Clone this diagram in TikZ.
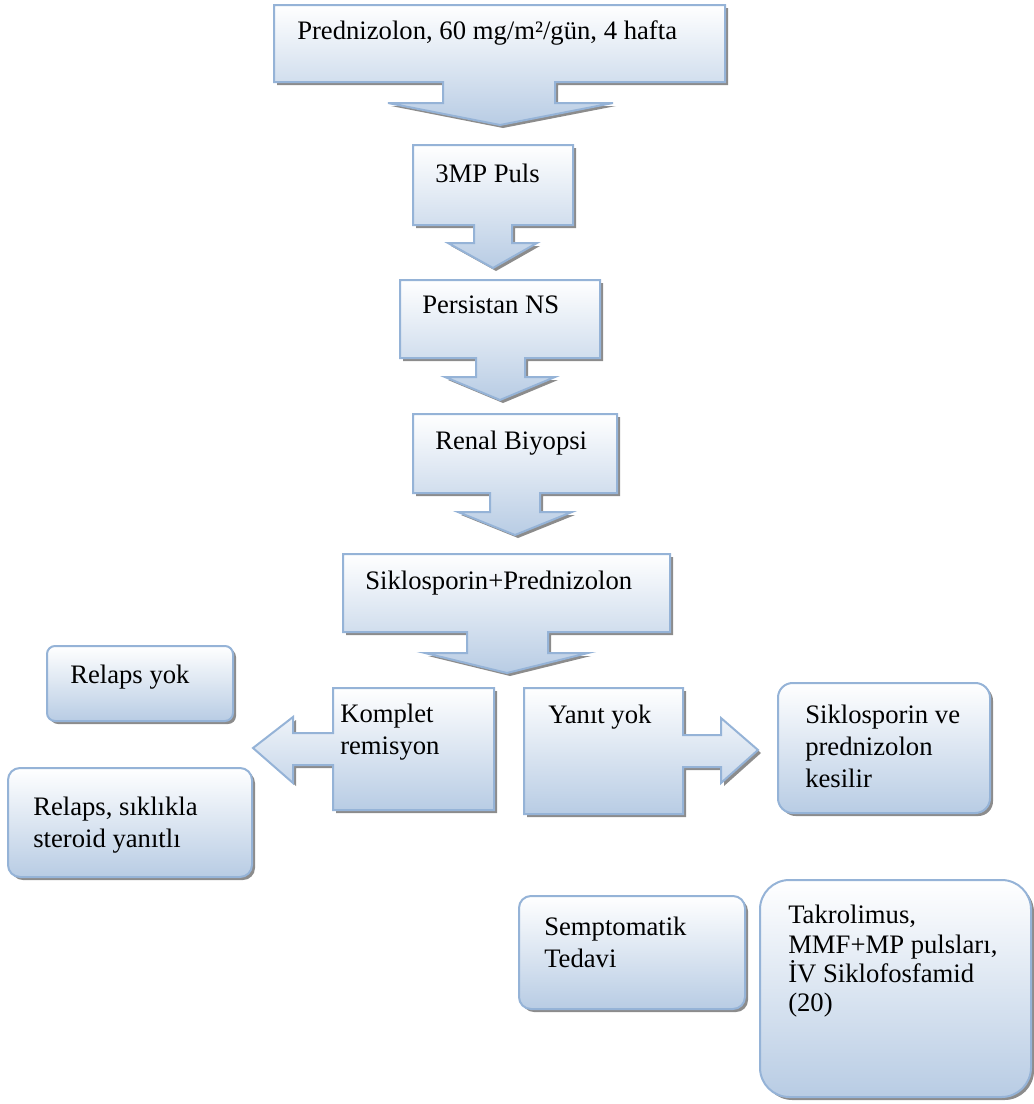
\documentclass[tikz,border=0pt]{standalone}
\usepackage{fontspec}
\setmainfont{Liberation Serif}
\definecolor{bord}{RGB}{149,179,215}
\definecolor{fillb}{RGB}{184,204,228}
\definecolor{shad}{RGB}{140,140,140}
\tikzset{
  boxsty/.style={draw=bord, line width=1.5pt, top color=white, bottom color=fillb, line join=miter},
  shadsty/.style={fill=shad},
  txt/.style={anchor=north west, inner sep=0pt, align=left, font=\fontsize{20}{24}\selectfont},
}
\newcommand\blockshape[2][]{%
  \fill[shadsty,shift={(3,3)},#1] #2;
  \path[boxsty,#1] #2;
}
\begin{document}
\begin{tikzpicture}[x=0.75pt,y=-0.75pt]
\useasboundingbox (0,0) rectangle (1034,1104);

% down arrow callouts
\blockshape{(274,5) -- (725,5) -- (725,82) -- (555,82) -- (555,103) -- (613,103) -- (500,125) -- (388,103) -- (443,103) -- (443,82) -- (274,82) -- cycle}
\blockshape{(413,145) -- (573,145) -- (573,225) -- (512,225) -- (512,243) -- (537,243) -- (493,268) -- (448,243) -- (474,243) -- (474,225) -- (413,225) -- cycle}
\blockshape{(400,280) -- (600,280) -- (600,358) -- (525,358) -- (525,377) -- (555,377) -- (500,400) -- (445,377) -- (476,377) -- (476,358) -- (400,358) -- cycle}
\blockshape{(413,414) -- (617,414) -- (617,493) -- (540,493) -- (540,512) -- (572,512) -- (515,535) -- (458,512) -- (490,512) -- (490,493) -- (413,493) -- cycle}
\blockshape{(343,554) -- (670,554) -- (670,632) -- (548,632) -- (548,653) -- (588,653) -- (507,673) -- (425,653) -- (467,653) -- (467,632) -- (343,632) -- cycle}

% left arrow callout
\blockshape{(333,688) -- (494,688) -- (494,810) -- (333,810) -- (333,765) -- (293,765) -- (293,783) -- (253,748) -- (293,717) -- (293,733) -- (333,733) -- cycle}
% right arrow callout
\blockshape{(524,688) -- (683,688) -- (683,735) -- (721,735) -- (721,718) -- (758,750) -- (721,783) -- (721,767) -- (683,767) -- (683,814) -- (524,814) -- cycle}

% rounded boxes
\blockshape[rounded corners=6pt]{(47,646) rectangle (233,721)}
\blockshape[rounded corners=9pt]{(8,768) rectangle (252,877)}
\blockshape[rounded corners=11pt]{(778,683) rectangle (990,813)}
\blockshape[rounded corners=9pt]{(519,896) rectangle (745,1009)}
\blockshape[rounded corners=22pt]{(760,880) rectangle (1031,1097)}

% texts
\node[txt] (pred) at (297,20) {Prednizolon, 60 mg/m²/gün, 4 hafta};
\node[txt] (mp) at (435,164) {3MP Puls};
\node[txt] (pns) at (422,296) {Persistan NS};
\node[txt] (rb) at (435,431) {Renal Biyopsi};
\node[txt] (sp) at (365,571) {Siklosporin+Prednizolon};
\node[txt] (kr) at (340,704) {Komplet\\remisyon};
\node[txt] (yy) at (548,705) {Yanıt yok};
\node[txt] (ry) at (70,665) {Relaps yok};
\node[txt] (rs) at (33,797) {Relaps, sıklıkla\\steroid yanıtlı};
\node[txt] (sk) at (805,705) {Siklosporin ve\\prednizolon\\kesilir};
\node[txt] (st) at (544,917) {Semptomatik\\Tedavi};
\node[txt, font=\fontsize{20}{22}\selectfont] (tk) at (788,905) {Takrolimus,\\MMF+MP pulsları,\\İV Siklofosfamid\\(20)};
\end{tikzpicture}
\end{document}
